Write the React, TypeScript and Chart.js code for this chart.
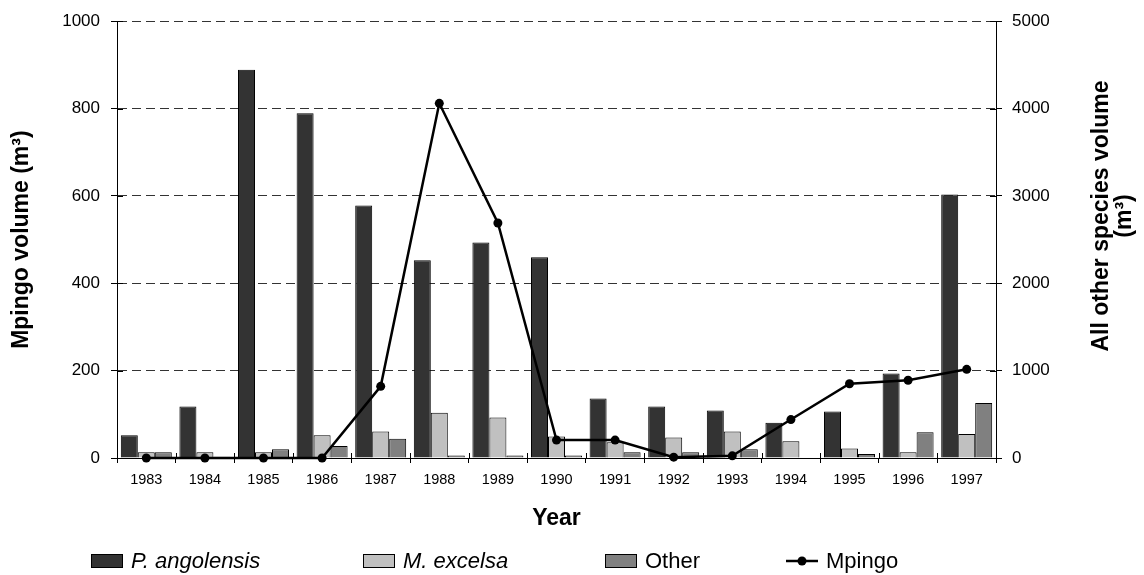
import React, { useEffect, useRef } from 'react';
import { Chart, registerables } from 'chart.js';

Chart.register(...registerables);

const years = ['1983', '1984', '1985', '1986', '1987', '1988', '1989', '1990', '1991', '1992', '1993', '1994', '1995', '1996', '1997'];
const pAngolensis = [261, 590, 4444, 3946, 2891, 2264, 2468, 2298, 680, 590, 544, 404, 533, 967, 3016];
const mExcelsa = [65, 65, 65, 261, 302, 518, 465, 246, 181, 234, 302, 193, 110, 65, 276];
const otherSpecies = [65, 15, 99, 136, 219, 30, 30, 30, 65, 65, 99, 0, 45, 295, 631];
const mpingo = [0, 0, 0, 0, 164, 812, 538, 41, 41, 2, 5, 88, 170, 178, 203];

const leftAxis = { min: 0, max: 1000, step: 200 };
const rightAxis = { min: 0, max: 5000, step: 1000 };

const seriesNames = ['P. angolensis', 'M. excelsa', 'Other', 'Mpingo'];
const leftTitle = 'Mpingo volume (m³)';
const rightTitle = ['All other species volume', '(m³)'];
const xTitle = 'Year';

const FONT = "Arial, 'Liberation Sans', sans-serif";
const COLORS = { p: '#333333', m: '#c0c0c0', o: '#808080', line: '#000000' };

const customPlugin = {
  id: 'customDecor',
  afterDraw(chart: any) {
    const ctx = chart.ctx as CanvasRenderingContext2D;
    const { x, y, y1 } = chart.scales;
    const area = chart.chartArea;
    ctx.save();
    ctx.strokeStyle = '#000';
    ctx.lineWidth = 1;
    ctx.setLineDash([]);
    // inner (crossing) tick marks
    y.ticks.forEach((_t: any, i: number) => {
      const py = Math.round(y.getPixelForTick(i)) + 0.5;
      ctx.beginPath();
      ctx.moveTo(area.left, py);
      ctx.lineTo(area.left + 6, py);
      ctx.stroke();
    });
    y1.ticks.forEach((_t: any, i: number) => {
      const py = Math.round(y1.getPixelForTick(i)) + 0.5;
      ctx.beginPath();
      ctx.moveTo(area.right - 6, py);
      ctx.lineTo(area.right, py);
      ctx.stroke();
    });
    for (let i = 0; i <= years.length; i++) {
      const px = Math.round(x.getPixelForValue(i - 0.5)) + 0.5;
      ctx.beginPath();
      ctx.moveTo(px, area.bottom - 5);
      ctx.lineTo(px, area.bottom);
      ctx.stroke();
    }

    // right axis title (reads bottom to top)
    ctx.fillStyle = '#000';
    ctx.font = `bold 23px ${FONT}`;
    ctx.textAlign = 'center';
    ctx.textBaseline = 'middle';
    const titleCenterY = 216;
    const lineXs = [1102, 1125];
    rightTitle.forEach((txt, i) => {
      ctx.save();
      ctx.translate(lineXs[i], titleCenterY);
      ctx.rotate(-Math.PI / 2);
      ctx.fillText(txt, 0, 0);
      ctx.restore();
    });

    // legend
    const ly = 561;
    const boxW = 32;
    const boxH = 14;
    const items = [
      { x: 91, fill: COLORS.p, italic: true },
      { x: 363, fill: COLORS.m, italic: true },
      { x: 605, fill: COLORS.o, italic: false },
    ];
    items.forEach((it, i) => {
      ctx.fillStyle = it.fill;
      ctx.fillRect(it.x, ly - boxH / 2, boxW, boxH);
      ctx.strokeStyle = '#000';
      ctx.lineWidth = 1;
      ctx.strokeRect(it.x + 0.5, ly - boxH / 2 + 0.5, boxW - 1, boxH - 1);
      ctx.fillStyle = '#000';
      ctx.font = `${it.italic ? 'italic ' : ''}22px ${FONT}`;
      ctx.textAlign = 'left';
      ctx.textBaseline = 'middle';
      ctx.fillText(seriesNames[i], it.x + boxW + 8, ly + 1);
    });
    const lx = 786;
    ctx.strokeStyle = '#000';
    ctx.lineWidth = 2.5;
    ctx.beginPath();
    ctx.moveTo(lx, ly);
    ctx.lineTo(lx + 32, ly);
    ctx.stroke();
    ctx.fillStyle = '#000';
    ctx.beginPath();
    ctx.arc(lx + 16, ly, 4.5, 0, Math.PI * 2);
    ctx.fill();
    ctx.font = `22px ${FONT}`;
    ctx.textAlign = 'left';
    ctx.fillText(seriesNames[3], lx + 40, ly + 1);
    ctx.restore();
  },
};

export default function App() {
  const canvasRef = useRef<HTMLCanvasElement | null>(null);

  useEffect(() => {
    if (!canvasRef.current) return;
    const chart = new Chart(canvasRef.current, {
      type: 'bar',
      data: {
        labels: years,
        datasets: [
          {
            type: 'line',
            label: seriesNames[3],
            data: mpingo,
            yAxisID: 'y',
            borderColor: COLORS.line,
            backgroundColor: COLORS.line,
            borderWidth: 2.5,
            pointRadius: 4.5,
            pointBackgroundColor: COLORS.line,
            pointBorderColor: COLORS.line,
            pointBorderWidth: 0,
            tension: 0,
            clip: false as any,
            order: 0,
          } as any,
          {
            label: seriesNames[0],
            data: pAngolensis,
            yAxisID: 'y1',
            backgroundColor: COLORS.p,
            borderColor: '#000',
            borderWidth: 1,
            categoryPercentage: 0.87,
            barPercentage: 1,
            order: 1,
          },
          {
            label: seriesNames[1],
            data: mExcelsa,
            yAxisID: 'y1',
            backgroundColor: COLORS.m,
            borderColor: '#000',
            borderWidth: 1,
            categoryPercentage: 0.87,
            barPercentage: 1,
            order: 1,
          },
          {
            label: seriesNames[2],
            data: otherSpecies,
            yAxisID: 'y1',
            backgroundColor: COLORS.o,
            borderColor: '#000',
            borderWidth: 1,
            categoryPercentage: 0.87,
            barPercentage: 1,
            order: 1,
          },
        ],
      },
      options: {
        responsive: false,
        animation: false,
        layout: { padding: { top: 17, bottom: 37, left: 0, right: 0 } },
        plugins: {
          legend: { display: false },
          tooltip: { enabled: false },
        },
        scales: {
          x: {
            type: 'category',
            offset: true,
            grid: {
              offset: true,
              drawOnChartArea: false,
              drawTicks: true,
              tickLength: 5,
              color: '#000',
              tickColor: '#000',
            },
            border: { display: true, color: '#000', width: 1 },
            ticks: {
              color: '#000',
              font: { family: FONT, size: 14.5 },
              padding: 8,
              maxRotation: 0,
              autoSkip: false,
            },
            title: {
              display: true,
              text: xTitle,
              color: '#000',
              font: { family: FONT, size: 23, weight: 'bold' },
              padding: { top: 0, bottom: 6 },
            },
            afterFit: (scale: any) => {
              scale.height = 80;
            },
          },
          y: {
            type: 'linear',
            position: 'left',
            min: leftAxis.min,
            max: leftAxis.max,
            ticks: {
              stepSize: leftAxis.step,
              color: '#000',
              font: { family: FONT, size: 17 },
              padding: 11,
              callback: (v: any) => String(v),
            },
            grid: {
              color: (c: any) => (c.tick && c.tick.value === 0 ? 'rgba(0,0,0,0)' : '#333333'),
              lineWidth: 1,
              drawTicks: true,
              tickLength: 6,
              tickColor: '#000',
            },
            border: { display: true, color: '#000', width: 1, dash: [9, 5] },
            title: {
              display: true,
              text: leftTitle,
              color: '#000',
              font: { family: FONT, size: 23, weight: 'bold' },
              padding: { top: 8, bottom: 0 },
            },
            afterFit: (scale: any) => {
              scale.width = 117;
            },
          },
          y1: {
            type: 'linear',
            position: 'right',
            min: rightAxis.min,
            max: rightAxis.max,
            ticks: {
              stepSize: rightAxis.step,
              color: '#000',
              font: { family: FONT, size: 17 },
              padding: 10,
              callback: (v: any) => String(v),
            },
            grid: {
              drawOnChartArea: false,
              drawTicks: true,
              tickLength: 6,
              color: '#000',
              tickColor: '#000',
            },
            border: { display: true, color: '#000', width: 1 },
            afterFit: (scale: any) => {
              scale.width = 148;
            },
          },
        },
      } as any,
      plugins: [customPlugin],
    });
    return () => {
      chart.destroy();
    };
  }, []);

  return (
    <div style={{ position: 'fixed', left: 0, top: 0, width: 1144, height: 575, background: '#fff' }}>
      <canvas ref={canvasRef} width={1144} height={575} style={{ display: 'block' }} />
    </div>
  );
}
